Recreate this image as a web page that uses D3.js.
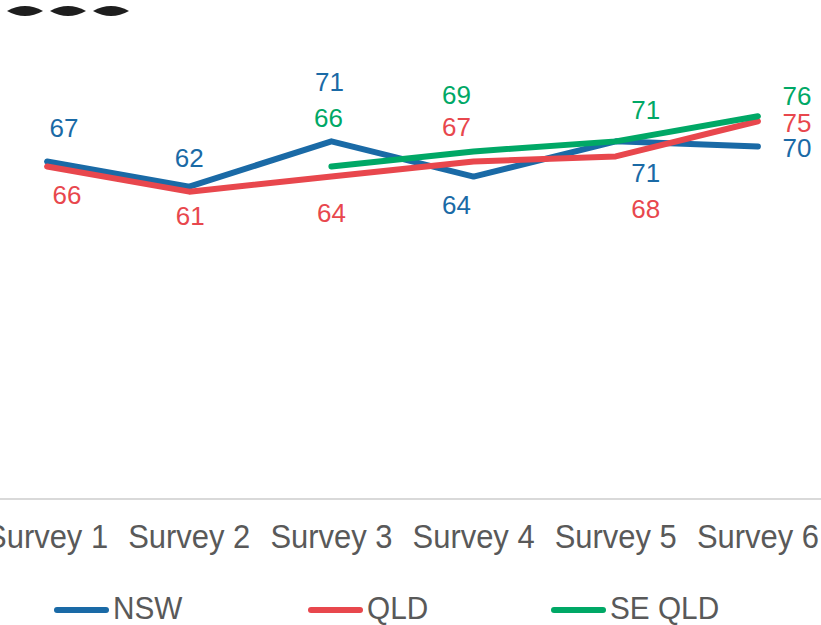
<!DOCTYPE html>
<html lang="en">
  <head>
    <meta charset="UTF-8" />
    <title>Survey results</title>
    <script src="https://d3js.org/d3.v7.min.js"></script>
    <style>
      body {
        margin: 0;
        background: #fff;
        font-family: "Liberation Sans", Arial, sans-serif;
      }
      svg {
        display: block;
      }
      .cat,
      .legend-text {
        fill: #595959;
      }
    </style>
  </head>
  <body>
    <svg id="chart" width="821" height="625"></svg>

    <script>
      // data
      const surveys = ["Survey 1", "Survey 2", "Survey 3", "Survey 4", "Survey 5", "Survey 6"];
      const nswValues = [67, 62, 71, 64, 71, 70];
      const qldValues = [66, 61, 64, 67, 68, 75];
      const seQldValues = [null, null, 66, 69, 71, 76];
      const seriesNames = ["NSW", "QLD", "SE QLD"];

      // label placement (pixel offsets from each point), kept apart from the values
      const labelOffsets = {
        NSW: [[17, -34], [0, -29], [-2, -60], [-17, 28], [30, 31], [39, 1]],
        QLD: [[20, 28], [1, 24], [0, 36], [-17, -35], [30, 52], [39, 1]],
        "SE QLD": [null, null, [-3, -49], [-17, -57], [30, -32], [39, -21]],
      };
      const colors = { NSW: "#1a6aa6", QLD: "#e8474d", "SE QLD": "#00a866" };

      const series = [
        { name: "NSW", values: nswValues },
        { name: "QLD", values: qldValues },
        { name: "SE QLD", values: seQldValues },
      ];

      const svg = d3.select("#chart");

      // plot area is wider than the window on both sides (cropped)
      const x = d3.scaleBand().domain(surveys).range([-24, 829]);
      const y = d3.scaleLinear().domain([0, 100]).range([498.5, -4.5]);
      const cx = (s) => x(s) + x.bandwidth() / 2;

      // three dark blobs top-left (clipped title remains)
      const blobs = [7, 50, 93];
      svg
        .selectAll(".blob")
        .data(blobs)
        .join("path")
        .attr("class", "blob")
        .attr("fill", "#1e1e1e")
        .attr("d", (b) => `M${b},11 Q${b + 18},1 ${b + 36},11 Q${b + 18},21 ${b},11Z`);

      // x axis line
      svg
        .append("line")
        .attr("x1", 0)
        .attr("x2", 821)
        .attr("y1", 499)
        .attr("y2", 499)
        .attr("stroke", "#d9d9d9")
        .attr("stroke-width", 2);

      // category labels
      svg
        .selectAll(".cat")
        .data(surveys)
        .join("text")
        .attr("class", "cat")
        .attr("text-anchor", "middle")
        .attr("transform", (d) => `translate(${cx(d)},548) scale(0.91,1)`)
        .style("font-size", "34px")
        .text((d) => d);

      const line = d3
        .line()
        .defined((d) => d != null)
        .x((d, i) => cx(surveys[i]))
        .y((d) => y(d));

      // lines
      svg
        .selectAll(".series")
        .data(series)
        .join("path")
        .attr("class", "series")
        .attr("fill", "none")
        .attr("stroke", (d) => colors[d.name])
        .attr("stroke-width", 6)
        .attr("stroke-linecap", "round")
        .attr("stroke-linejoin", "round")
        .attr("d", (d) => line(d.values));

      // data labels
      series.forEach((s) => {
        svg
          .selectAll(null)
          .data(s.values.map((v, i) => ({ v, i })).filter((d) => d.v != null))
          .join("text")
          .attr("x", (d) => cx(surveys[d.i]) + labelOffsets[s.name][d.i][0])
          .attr("y", (d) => y(d.v) + labelOffsets[s.name][d.i][1])
          .attr("dy", "0.36em")
          .attr("text-anchor", "middle")
          .attr("fill", colors[s.name])
          .style("font-size", "26px")
          .text((d) => d.v);
      });

      // legend
      const legendX = [54, 308, 551];
      const legend = svg
        .selectAll(".legend")
        .data(seriesNames)
        .join("g")
        .attr("class", "legend")
        .attr("transform", (d, i) => `translate(${legendX[i]},610)`);

      legend
        .append("line")
        .attr("x1", 3)
        .attr("x2", 52)
        .attr("stroke", (d) => colors[d])
        .attr("stroke-width", 6)
        .attr("stroke-linecap", "round");

      legend
        .append("text")
        .attr("class", "legend-text")
        .attr("transform", "translate(59,9) scale(0.96,1)")
        .style("font-size", "31px")
        .text((d) => d);
    </script>
  </body>
</html>
